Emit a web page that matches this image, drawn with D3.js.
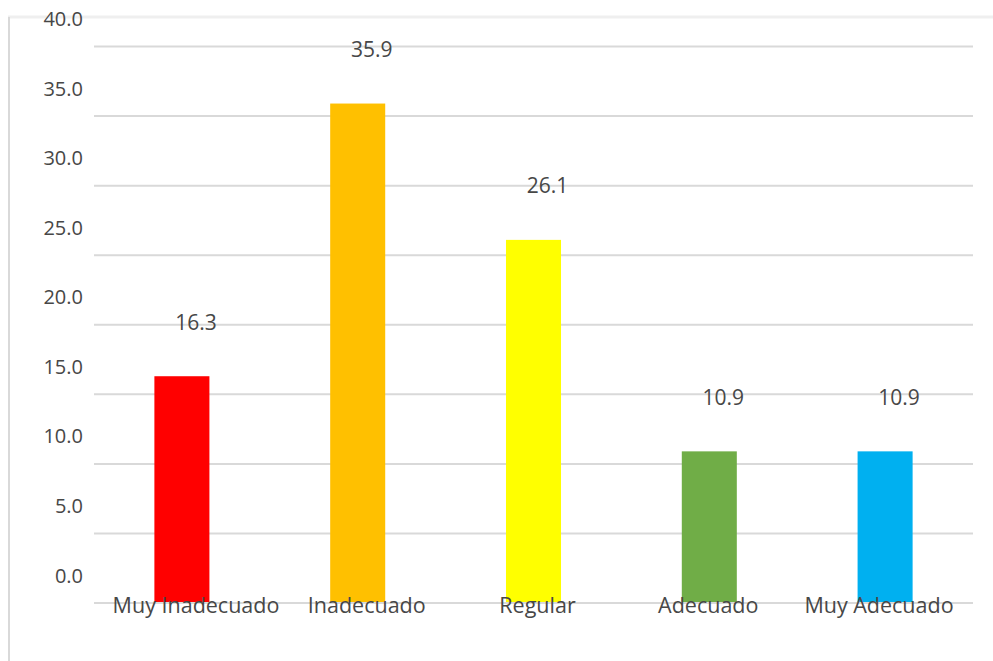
<!DOCTYPE html>
<html>
<head>
<meta charset="utf-8">
<script src="https://cdn.jsdelivr.net/npm/d3@7"></script>
<style>
  html, body { margin: 0; padding: 0; background: #ffffff; }
  svg { display: block; }
  text { font-family: "Open Sans", "Noto Sans", sans-serif; fill: #474747; }
</style>
</head>
<body>
<svg id="chart" width="993" height="661"></svg>
<script>
// Distribution by rating category (%)
const categories = ["Muy Inadecuado", "Inadecuado", "Regular", "Adecuado", "Muy Adecuado"];
const values = [16.3, 35.9, 26.1, 10.9, 10.9];
const barColors = ["#FF0000", "#FFC000", "#FFFF00", "#70AD47", "#00B0F0"];
const yTicks = [0, 5, 10, 15, 20, 25, 30, 35, 40];

const W = 993, H = 661;
const plot = { left: 94, right: 973, top: 46.5, bottom: 603 };

const svg = d3.select("#chart");

// outer chart frame (top and left edges)
svg.append("line")
  .attr("x1", 8).attr("x2", W).attr("y1", 17).attr("y2", 17)
  .attr("stroke", "#efefef").attr("stroke-width", 3);
svg.append("line")
  .attr("x1", 9).attr("x2", 9).attr("y1", 17).attr("y2", H)
  .attr("stroke", "#d9d9d9").attr("stroke-width", 2);

const x = d3.scaleBand()
  .domain(categories)
  .range([plot.left, plot.right])
  .paddingInner(0.687)
  .paddingOuter(0.3435);

const y = d3.scaleLinear()
  .domain([0, 40])
  .range([plot.bottom, plot.top]);

// horizontal gridlines
svg.append("g")
  .selectAll("line")
  .data(yTicks)
  .join("line")
  .attr("x1", plot.left).attr("x2", plot.right)
  .attr("y1", d => y(d)).attr("y2", d => y(d))
  .attr("stroke", "#d9d9d9").attr("stroke-width", 2);

// y-axis tick labels (sit above their gridlines)
svg.append("g")
  .selectAll("text")
  .data(yTicks)
  .join("text")
  .attr("x", 83)
  .attr("y", d => y(d) - 27.5)
  .attr("dy", "0.35em")
  .attr("text-anchor", "end")
  .style("font-size", "20px")
  .text(d3.format(".1f"));

// bars
svg.append("g")
  .selectAll("rect")
  .data(values)
  .join("rect")
  .attr("x", (d, i) => x(categories[i]))
  .attr("width", x.bandwidth())
  .attr("y", d => y(d))
  .attr("height", d => y(0) - y(d))
  .attr("fill", (d, i) => barColors[i]);

// baseline redrawn over bars
svg.append("line")
  .attr("x1", plot.left).attr("x2", plot.right)
  .attr("y1", y(0)).attr("y2", y(0))
  .attr("stroke", "#d9d9d9").attr("stroke-width", 2);

// value labels
svg.append("g")
  .selectAll("text")
  .data(values)
  .join("text")
  .attr("x", (d, i) => x(categories[i]) + x.bandwidth() / 2 + 14)
  .attr("y", d => y(d) - 54)
  .attr("dy", "0.35em")
  .attr("text-anchor", "middle")
  .style("font-size", "21px")
  .text(d => d3.format(".1f")(d));

// category labels
const xl = d3.scalePoint().domain(categories).range([196, 879]);
svg.append("g")
  .selectAll("text")
  .data(categories)
  .join("text")
  .attr("x", d => xl(d))
  .attr("y", 613)
  .attr("text-anchor", "middle")
  .style("font-size", "21.5px")
  .text(d => d);
</script>
</body>
</html>
